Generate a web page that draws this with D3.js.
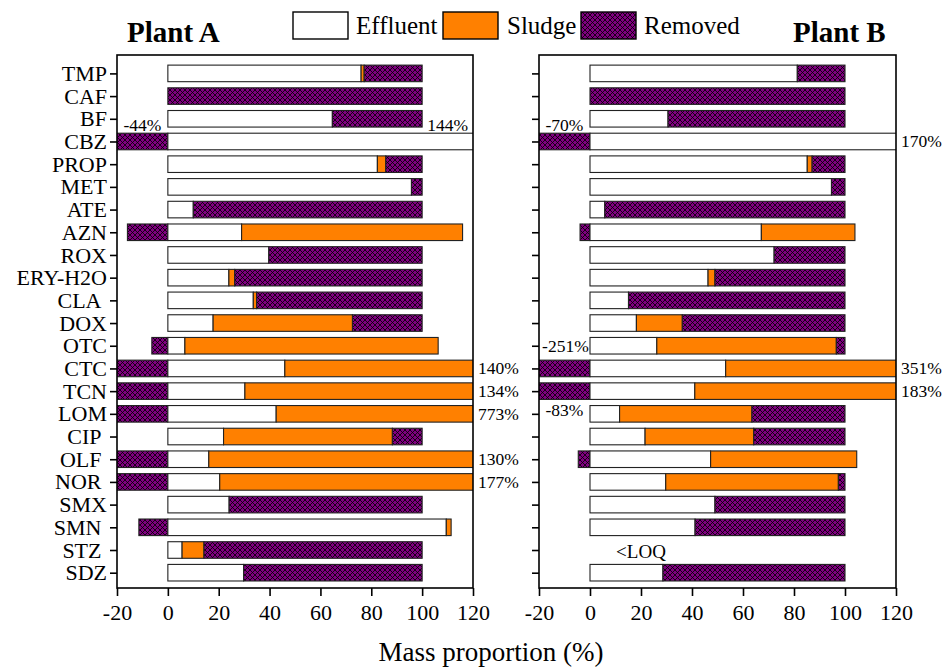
<!DOCTYPE html>
<html>
<head>
<meta charset="utf-8">
<script src="https://cdn.jsdelivr.net/npm/d3@7"></script>
<style>
  html, body { margin: 0; padding: 0; background: #fff; }
  svg { display: block; font-family: "Liberation Serif", "Times New Roman", serif; }
</style>
</head>
<body>
<svg id="chart" width="945" height="669"></svg>
<script>
// ---------------- DATA ----------------
const categories = ["TMP","CAF","BF","CBZ","PROP","MET","ATE","AZN","ROX","ERY-H2O","CLA","DOX","OTC","CTC","TCN","LOM","CIP","OLF","NOR","SMX","SMN","STZ","SDZ"];
// displayed category labels (some have a trailing space in the original)
const categoryLabels = ["TMP","CAF","BF","CBZ","PROP","MET","ATE","AZN","ROX","ERY-H2O","CLA\u00a0","DOX","OTC","CTC","TCN","LOM","CIP\u00a0","OLF\u00a0","NOR\u00a0","SMX","SMN\u00a0","STZ\u00a0","SDZ"];

// Plant A (% of influent mass)
const effluentA = [76.0, 0, 64.7, 144, 82.4, 95.8, 10.0, 29.0, 39.7, 24.0, 33.6, 17.8, 6.7, 46.0, 30.3, 42.6, 21.9, 16.1, 20.4, 24.1, 109.5, 5.6, 29.8];
const sludgeA   = [1.2, 0, 0, 0, 3.3, 0, 0, 86.9, 0, 2.3, 1.3, 54.8, 99.6, 94.0, 103.7, 730.4, 66.4, 113.9, 156.6, 0, 1.9, 8.6, 0];
const removedA  = [22.8, 100, 35.3, -44, 14.3, 4.2, 90.0, -15.9, 60.3, 73.7, 65.1, 27.4, -6.3, -40, -34, -673, 11.7, -30, -77, 75.9, -11.4, 85.8, 70.2];

// Plant B (% of influent mass); STZ < LOQ
const effluentB = [81.3, 0, 30.6, 170, 85.2, 94.7, 5.8, 67.2, 72.2, 46.3, 15.1, 18.2, 26.2, 53.2, 41.1, 11.6, 21.6, 47.3, 29.7, 49.0, 41.2, null, 28.6];
const sludgeB   = [0, 0, 0, 0, 1.9, 0, 0, 36.7, 0, 2.7, 0, 18.0, 70.4, 297.8, 141.9, 51.9, 42.6, 57.3, 67.7, 0, 0, null, 0];
const removedB  = [18.7, 100, 69.4, -70, 12.9, 5.3, 94.2, -3.9, 27.8, 51.0, 84.9, 63.8, 3.4, -251, -83, 36.5, 35.8, -4.6, 2.6, 51.0, 58.8, null, 71.4];

const xTicks = [-20, 0, 20, 40, 60, 80, 100, 120];
const seriesNames = ["Effluent", "Sludge", "Removed"];

// annotation texts
const notesA = [
  {cat: "CBZ", text: "-44%", side: "negAbove"},
  {cat: "CBZ", text: "144%", side: "posAboveInside"},
  {cat: "CTC", text: "140%", side: "right"},
  {cat: "TCN", text: "134%", side: "right"},
  {cat: "LOM", text: "773%", side: "right"},
  {cat: "OLF", text: "130%", side: "right"},
  {cat: "NOR", text: "177%", side: "right"}
];
const notesB = [
  {cat: "CBZ", text: "-70%", side: "negAbove"},
  {cat: "CBZ", text: "170%", side: "right"},
  {cat: "CTC", text: "-251%", side: "negAboveRow"},
  {cat: "CTC", text: "351%", side: "right"},
  {cat: "TCN", text: "183%", side: "right"},
  {cat: "TCN", text: "-83%", side: "negBelowRow"},
  {cat: "STZ", text: "<LOQ", side: "loq"}
];

// ---------------- DRAW ----------------
const svg = d3.select("#chart");
const colors = {Effluent: "#ffffff", Sludge: "#ff8000"};
const purple = "#800080";

const defs = svg.append("defs");
const pat = defs.append("pattern")
  .attr("id", "hatch").attr("patternUnits", "userSpaceOnUse")
  .attr("width", 5).attr("height", 5);
pat.append("rect").attr("width", 5).attr("height", 5).attr("fill", purple);
pat.append("path").attr("d", "M0,0 L5,5 M5,0 L0,5 M-1,4 L1,6 M4,-1 L6,1 M-1,1 L1,-1 M4,6 L6,4")
  .attr("stroke", "#000").attr("stroke-width", 0.8);
const fillFor = k => k === "Removed" ? "url(#hatch)" : colors[k];

const yTop = 55, yBottom = 588;
const y = d3.scalePoint().domain(categories).range([73.4, 572.7]);
const barH = y.step() * 0.73;

const font = '"Liberation Serif", "Times New Roman", serif';

function panel(id, x0, x1, eff, slu, rem, notes, showLabels, title, titleX) {
  const x = d3.scaleLinear().domain([-20, 120]).range([x0, x1]);
  const g = svg.append("g");

  defs.append("clipPath").attr("id", "clip" + id)
    .append("rect").attr("x", x0).attr("y", yTop).attr("width", x1 - x0).attr("height", yBottom - yTop);

  const rows = categories.map((c, i) => {
    const segs = [];
    if (eff[i] === null) return {c, segs};
    const e = eff[i], s = slu[i], r = rem[i];
    if (r < 0) segs.push({k: "Removed", a: r, b: 0});
    if (e > 0) segs.push({k: "Effluent", a: 0, b: e});
    if (s > 0) segs.push({k: "Sludge", a: e, b: e + s});
    if (r > 0) segs.push({k: "Removed", a: e + s, b: e + s + r});
    return {c, segs};
  });

  const bars = g.append("g").attr("clip-path", `url(#clip${id})`);
  rows.forEach(row => {
    bars.selectAll(null).data(row.segs).enter().append("rect")
      .attr("x", d => x(Math.min(d.a, d.b)))
      .attr("width", d => Math.abs(x(d.b) - x(d.a)))
      .attr("y", y(row.c) - barH / 2)
      .attr("height", barH)
      .attr("fill", d => fillFor(d.k))
      .attr("stroke", "#222")
      .attr("stroke-width", 1.1);
  });

  // frame
  g.append("rect").attr("x", x0).attr("y", yTop).attr("width", x1 - x0).attr("height", yBottom - yTop)
    .attr("fill", "none").attr("stroke", "#000").attr("stroke-width", 1.6);

  // x axis
  const xa = g.append("g").attr("transform", `translate(0,${yBottom})`)
    .call(d3.axisBottom(x).tickValues(xTicks).tickSize(8).tickPadding(8).tickFormat(d => String(d)));
  xa.select(".domain").remove();
  xa.selectAll("line").attr("stroke", "#000").attr("stroke-width", 1.6);
  xa.selectAll("text").attr("font-family", font).attr("font-size", 22).attr("fill", "#000");

  // y axis
  const ya = g.append("g").attr("transform", `translate(${x0},0)`)
    .call(d3.axisLeft(y).tickSize(7).tickPadding(3)
      .tickFormat((d, i) => showLabels ? categoryLabels[i] : ""));
  ya.select(".domain").remove();
  ya.selectAll("line").attr("stroke", "#000").attr("stroke-width", 1.6);
  ya.selectAll("text").attr("font-family", font).attr("font-size", 22).attr("fill", "#000");

  // annotations
  notes.forEach(n => {
    const cy = y(n.cat);
    const t = g.append("text").attr("font-family", font).attr("font-size", 17.5).attr("fill", "#000").text(n.text);
    if (n.side === "negAbove") {
      t.attr("x", x(-10)).attr("y", cy - 10).attr("text-anchor", "middle");
    } else if (n.side === "posAboveInside") {
      t.attr("x", x(102)).attr("y", cy - 10).attr("text-anchor", "start");
    } else if (n.side === "right") {
      t.attr("x", x1 + 5).attr("y", cy + 6).attr("text-anchor", "start");
    } else if (n.side === "negAboveRow") {
      t.attr("x", x(-0.5)).attr("y", cy - y.step() + 6).attr("text-anchor", "end");
    } else if (n.side === "negBelowRow") {
      t.attr("x", x(-10)).attr("y", cy + y.step() + 2).attr("text-anchor", "middle");
    } else if (n.side === "loq") {
      t.attr("x", x(20)).attr("y", cy + 8).attr("text-anchor", "middle").attr("font-size", 19);
    }
  });

  // title
  svg.append("text").attr("x", titleX).attr("y", 42).attr("font-family", font)
    .attr("font-size", 29).attr("font-weight", "bold").attr("fill", "#000").text(title);
}

panel("A", 117, 473, effluentA, sludgeA, removedA, notesA, true, "Plant A", 127);
panel("B", 539, 896, effluentB, sludgeB, removedB, notesB, false, "Plant B", 793);

// legend
const legend = svg.append("g");
const legendPos = [{bx: 293, tx: 356}, {bx: 443, tx: 507}, {bx: 581, tx: 644}];
seriesNames.forEach((k, i) => {
  legend.append("rect").attr("x", legendPos[i].bx).attr("y", 12).attr("width", 55).attr("height", 27)
    .attr("fill", fillFor(k)).attr("stroke", "#000").attr("stroke-width", 1.4);
  legend.append("text").attr("x", legendPos[i].tx).attr("y", 34).attr("font-family", font)
    .attr("font-size", 25).attr("fill", "#000").text(k);
});

// x axis title
svg.append("text").attr("x", 491).attr("y", 661).attr("text-anchor", "middle")
  .attr("font-family", font).attr("font-size", 27).attr("fill", "#000").text("Mass proportion (%)");
</script>
</body>
</html>
